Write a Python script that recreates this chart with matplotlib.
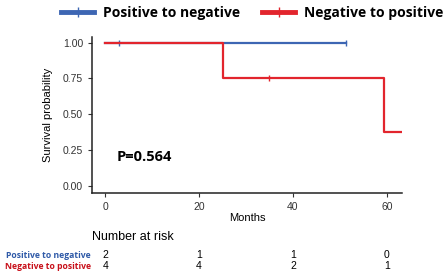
import matplotlib
matplotlib.use("Agg")
import matplotlib.pyplot as plt
import matplotlib.transforms as mtransforms
from matplotlib.lines import Line2D

# Kaplan-Meier step data (months, survival)
pos_neg_times = [0, 51.3]
pos_neg_surv = [1.0, 1.0]
pos_neg_censor_t = [3.0, 51.3]
pos_neg_censor_s = [1.0, 1.0]

neg_pos_times = [0, 25.1, 59.4, 63.2]
neg_pos_surv = [1.0, 0.75, 0.375, 0.375]
neg_pos_censor_t = [35.0]
neg_pos_censor_s = [0.75]

risk_times = [0, 20, 40, 60]
risk_pos_neg = [2, 1, 1, 0]
risk_neg_pos = [4, 4, 2, 1]

blue = "#3d66b3"
red = "#e2252d"
label_blue = "#2f5aa8"
label_red = "#c8101a"

plt.rcParams["font.family"] = ["Liberation Sans", "DejaVu Sans"]
bold_font = ["Open Sans", "DejaVu Sans"]

fig = plt.figure(figsize=(4.47, 2.76), dpi=100)
ax = fig.add_axes([0.206, 0.301, 0.693, 0.565])

ax.step(pos_neg_times, pos_neg_surv, where="post", color=blue, lw=1.6)
ax.plot(pos_neg_censor_t, pos_neg_censor_s, "|", color=blue, ms=5, mew=1)
ax.step(neg_pos_times, neg_pos_surv, where="post", color=red, lw=1.6)
ax.plot(neg_pos_censor_t, neg_pos_censor_s, "|", color=red, ms=5, mew=1)

ax.set_xlim(-2.8, 63.2)
ax.set_ylim(-0.05, 1.04)
ax.set_xticks([0, 20, 40, 60])
ax.set_yticks([0, 0.25, 0.5, 0.75, 1.0])
ax.set_yticklabels(["0.00", "0.25", "0.50", "0.75", "1.00"])
ax.tick_params(labelsize=7.5, length=3, width=0.8, colors="#333333", labelcolor="#333333")
for s in ["top", "right"]:
    ax.spines[s].set_visible(False)
for s in ["left", "bottom"]:
    ax.spines[s].set_linewidth(1.1)
    ax.spines[s].set_color("#222222")

ax.set_xlabel("Months", fontsize=8, labelpad=1)
ax.set_ylabel("Survival probability", fontsize=8, labelpad=7)

ax.text(2.5, 0.2, "P=0.564", fontsize=10.5, fontweight="bold",
        family=bold_font, va="center")

# legend on top
handles = [Line2D([0], [0], color=blue, lw=3.5, marker="|", ms=7, mew=1),
           Line2D([0], [0], color=red, lw=3.5, marker="|", ms=7, mew=1)]
fig.legend(handles, ["Positive to negative", "Negative to positive"],
           loc="upper center", bbox_to_anchor=(0.564, 1.025), ncol=2, frameon=False,
           prop={"family": bold_font, "weight": "bold", "size": 10},
           handlelength=2.4, columnspacing=1.6, handletextpad=0.6)

# risk table
trans = mtransforms.blended_transform_factory(ax.transData, fig.transFigure)
fig.text(0.206, 0.14, "Number at risk", fontsize=9, va="center")
fig.text(0.203, 0.075, "Positive to negative", color=label_blue, fontsize=6.2,
         fontweight="bold", ha="right", va="center", family=bold_font)
fig.text(0.203, 0.035, "Negative to positive", color=label_red, fontsize=6.2,
         fontweight="bold", ha="right", va="center", family=bold_font)
for t, a, b in zip(risk_times, risk_pos_neg, risk_neg_pos):
    ax.text(t, 0.075, str(a), transform=trans, fontsize=7.5, ha="center", va="center")
    ax.text(t, 0.035, str(b), transform=trans, fontsize=7.5, ha="center", va="center")

fig.savefig("out.png", dpi=100)
